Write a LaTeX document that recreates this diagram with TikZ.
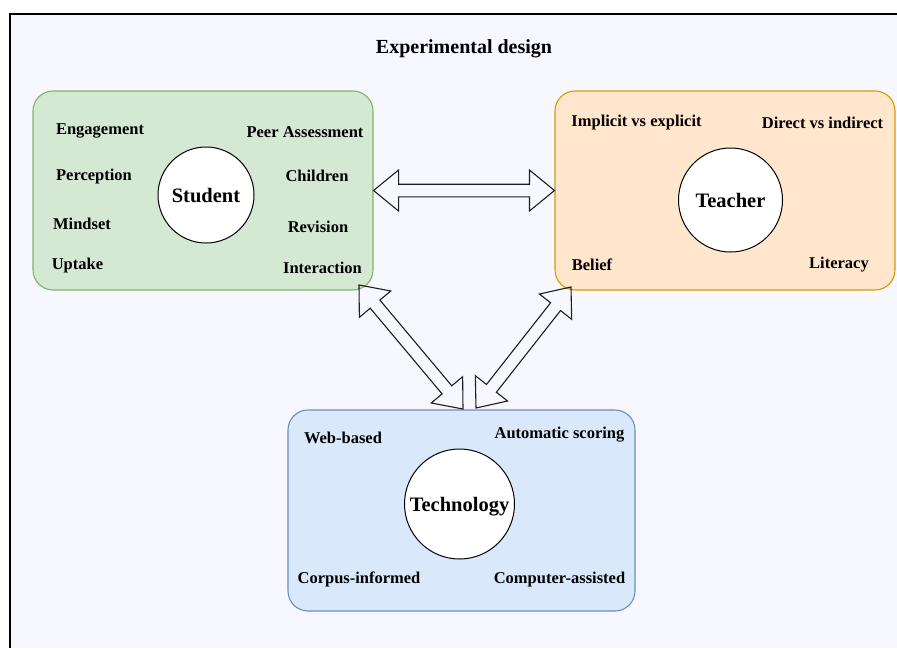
\documentclass[tikz,border=0pt]{standalone}
\usepackage{fontspec}
\setmainfont{Liberation Serif}
\usepackage{xcolor}
\usetikzlibrary{calc}
\definecolor{designbg}{RGB}{247, 247, 255}
\definecolor{stugreen}{HTML}{82B366}
\definecolor{stulight}{HTML}{D5E8D4}
\definecolor{teaorange}{HTML}{D79B00}
\definecolor{tealight}{HTML}{FFE6CC}
\definecolor{techblue}{HTML}{6C8EBF}
\definecolor{techlight}{HTML}{DAE8FC}
\definecolor{arrowgray}{RGB}{30, 30, 30}

% hollow double block arrow between two named points
\newcommand{\ahead}{25pt}
\newcommand{\awide}{20.5pt}
\newcommand{\ashaft}{6.3pt}
\newcommand{\dblarrow}[2]{%
    \draw[blockarrow] (#1)
        -- ($(#1)!\ahead!(#2)!\awide!90:(#2)$)
        -- ($(#1)!\ahead!(#2)!\ashaft!90:(#2)$)
        -- ($(#2)!\ahead!(#1)!\ashaft!-90:(#1)$)
        -- ($(#2)!\ahead!(#1)!\awide!-90:(#1)$)
        -- (#2)
        -- ($(#2)!\ahead!(#1)!\awide!90:(#1)$)
        -- ($(#2)!\ahead!(#1)!\ashaft!90:(#1)$)
        -- ($(#1)!\ahead!(#2)!\ashaft!-90:(#2)$)
        -- ($(#1)!\ahead!(#2)!\awide!-90:(#2)$)
        -- cycle;}

\begin{document}
\begin{tikzpicture}[
        x=1pt, y=-1pt,
        group/.style={rectangle, rounded corners=20pt, line width=1.1pt, minimum width=340pt, minimum height=199pt},
        hub/.style={circle, draw=black, fill=white, line width=1pt, inner sep=0pt, text depth=0pt, font=\fontsize{20.5}{24}\selectfont\bfseries},
        item/.style={inner sep=0pt, yshift=-1.8pt, font=\fontsize{16.5}{19}\selectfont\bfseries},
        blockarrow/.style={draw=arrowgray, line width=1.1pt, line join=miter}
    ]
        \useasboundingbox (0,0) rectangle (897,648);
        \fill[designbg] (10,14) rectangle (897,648);
        \draw[line width=1.2pt] (10,648) -- (10,14) -- (897,14);
        \node[font=\fontsize{20}{24}\selectfont\bfseries] (title) at (464,49) {Experimental design};
        % three groups
        \node[group, draw=stugreen, fill=stulight] (student) at (203,190.5) {};
        \node[group, draw=teaorange, fill=tealight] (teacher) at (725,190.5) {};
        \node[group, draw=techblue, fill=techlight, minimum width=347pt, minimum height=201pt] (tech) at (461.5,510.5) {};
        \node[hub, minimum size=96pt] (stuhub) at (206,195) {Student};
        \node[hub, minimum size=104pt] (teahub) at (730.5,200) {Teacher};
        \node[hub, minimum size=110pt] (techhub) at (459.5,504) {Technology};
        % student topics
        \node[item] (engage) at (100,129) {Engagement};
        \node[item] (percep) at (94,175) {Perception};
        \node[item] (mind) at (82,222) {Mindset};
        \node[item] (uptake) at (77.5,264) {Uptake};
        \node[item] (peer) at (305,130) {Peer Assessment};
        \node[item] (child) at (317,174) {Children};
        \node[item] (revis) at (318,225) {Revision};
        \node[item] (inter) at (322.5,266) {Interaction};
        % teacher topics
        \node[item] (implicit) at (636.5,121) {Implicit vs explicit};
        \node[item] (direct) at (822.5,121) {Direct vs indirect};
        \node[item] (belief) at (592,263) {Belief};
        \node[item] (literacy) at (839,263) {Literacy};
        % technology topics
        \node[item] (web) at (343,436) {Web-based};
        \node[item] (auto) at (559.5,433) {Automatic scoring};
        \node[item] (corpus) at (359,578) {Corpus-informed};
        \node[item] (computer) at (559.5,578) {Computer-assisted};
        % arrow ends
        \coordinate (stuend) at (359,285);
        \coordinate (teaend) at (571,287);
        \coordinate (techleft) at (463,409);
        \coordinate (techright) at (476,408);
        \dblarrow{student.east}{teacher.west}
        \dblarrow{stuend}{techleft}
        \dblarrow{teaend}{techright}
    \end{tikzpicture}
\end{document}
